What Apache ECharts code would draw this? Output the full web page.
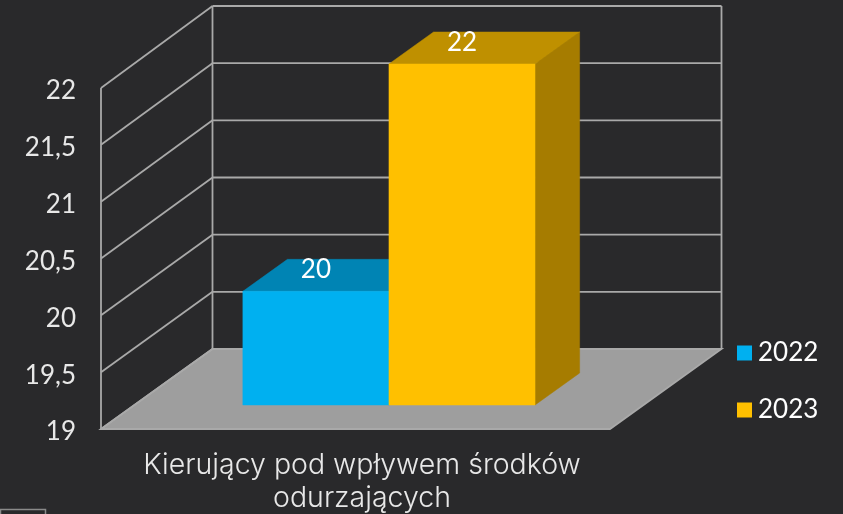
<!DOCTYPE html>
<html>
<head>
<meta charset="utf-8">
<style>html,body{margin:0;padding:0;background:#29292b}#c{width:843px;height:514px}</style>
<script src="https://cdn.jsdelivr.net/npm/echarts@6/dist/echarts.min.js"></script>
</head>
<body>
<div id="c"></div>
<script>
var categories = ['Kierujący pod wpływem środków\nodurzających'];
var seriesNames = ['2022', '2023'];
var values2022 = [20];
var values2023 = [22];
var yTicks = [19, 19.5, 20, 20.5, 21, 21.5, 22];

var FONT = 'Lato, "Open Sans", sans-serif';
var CAT_FONT = 'Inter, "Open Sans", sans-serif';
var LINE = '#a9a9a9';
// 3D projection, as fractions of the front plane
var DEPTH_X = 111.5 / 509, DEPTH_Y = 80 / 341, BACK_SCALE = 343 / 341;
var BAR_FRONT_GAP = 0.3, BAR_DEPTH = 0.4, BAR_WIDTH = 0.287;

function depthOf(cs) { return { x: cs.width * DEPTH_X, y: cs.height * DEPTH_Y }; }
function backY(cs, y) {
  var b = cs.y + cs.height;
  return b - cs.height * DEPTH_Y + (y - b) * BACK_SCALE;
}
function line(a, b, w) {
  return { type: 'line', shape: { x1: a[0], y1: a[1], x2: b[0], y2: b[1] },
    style: { stroke: LINE, lineWidth: w || 1.8, fill: null } };
}
function poly(pts, fill) {
  return { type: 'polygon', shape: { points: pts }, style: { fill: fill, stroke: fill, lineWidth: 0.5 } };
}
function renderFloor(params, api) {
  var cs = params.coordSys, d = depthOf(cs);
  var l = cs.x, r = cs.x + cs.width, b = cs.y + cs.height, t = cs.y;
  return { type: 'group', children: [
    { type: 'polygon', shape: { points: [[l, b], [r, b], [r + d.x, backY(cs, b)], [l + d.x, backY(cs, b)]] },
      style: { fill: '#9e9e9e', stroke: LINE, lineWidth: 1.8 } },
    line([l, t], [l, b]),
    line([l + d.x, backY(cs, t)], [l + d.x, backY(cs, b)]),
    line([r + d.x, backY(cs, t)], [r + d.x, backY(cs, b)])
  ] };
}
function renderGrid(params, api) {
  var cs = params.coordSys, d = depthOf(cs);
  var y = api.coord([0, api.value(1)])[1];
  var l = cs.x, r = cs.x + cs.width;
  return { type: 'group', children: [
    line([l, y], [l + d.x, backY(cs, y)]),
    line([l + d.x, backY(cs, y)], [r + d.x, backY(cs, y)])
  ] };
}
function makeBar(side, front, top, sideColor) {
  // side: -1 = left bar of the pair, 0 = right bar
  return function (params, api) {
    var cs = params.coordSys, d = depthOf(cs);
    var p = api.coord([api.value(0), api.value(1)]);
    var base = api.coord([api.value(0), yTicks[0]]);
    var w = cs.width * BAR_WIDTH;
    var ox = d.x * BAR_FRONT_GAP, oy = d.y * BAR_FRONT_GAP;
    var bx = d.x * BAR_DEPTH, by = d.y * BAR_DEPTH;
    var x0 = p[0] + ox + side * w, x1 = x0 + w;
    var yt = p[1] - oy, yb = base[1] - oy;
    return { type: 'group', children: [
      poly([[x1, yt], [x1 + bx, yt - by], [x1 + bx, yb - by], [x1, yb]], sideColor),
      poly([[x0, yt], [x0 + bx, yt - by], [x1 + bx, yt - by], [x1, yt]], top),
      poly([[x0, yt], [x1, yt], [x1, yb], [x0, yb]], front),
      { type: 'text', style: { text: String(api.value(1)), x: (x0 + x1) / 2, y: yt - 21.5,
        align: 'center', verticalAlign: 'middle', fill: '#fff', fontSize: 26, fontFamily: FONT } }
    ] };
  };
}

var chart = echarts.init(document.getElementById('c'), null, { renderer: 'canvas' });
chart.setOption({
  backgroundColor: '#29292b',
  animation: false,
  textStyle: { fontFamily: FONT },
  grid: { left: 101, right: 233, top: 88, bottom: 85, outerBoundsMode: 'none' },
  legend: {
    data: seriesNames, orient: 'vertical', left: 732, top: 335,
    itemWidth: 15, itemHeight: 15, itemGap: 31, icon: 'rect', selectedMode: false,
    textStyle: { color: '#fff', fontSize: 26, fontFamily: FONT, padding: [0, 0, 0, 1] }
  },
  xAxis: {
    type: 'category', data: categories,
    axisLine: { show: false }, axisTick: { show: false }, splitLine: { show: false },
    axisLabel: { color: '#e8e8e8', fontSize: 28.5, fontWeight: 300, lineHeight: 33, margin: 20, fontFamily: CAT_FONT, padding: [0, 0, 0, 13], interval: 0 }
  },
  yAxis: {
    type: 'value', min: 19, max: 22, interval: 0.5,
    axisLine: { show: false }, axisTick: { show: false }, splitLine: { show: false },
    axisLabel: { color: '#e8e8e8', fontSize: 26, margin: 25, fontFamily: FONT, verticalAlign: 'top', lineHeight: 6,
      formatter: function (v) { return String(v).replace('.', ','); } }
  },
  series: [
    { type: 'custom', name: 'floor', silent: true, clip: false, z: 1, renderItem: renderFloor, data: [[0, yTicks[0]]] },
    { type: 'custom', name: 'grid', silent: true, clip: false, z: 2, renderItem: renderGrid,
      data: yTicks.map(function (v) { return [0, v]; }) },
    { type: 'custom', name: seriesNames[0], clip: false, z: 3, itemStyle: { color: '#00B0F0' },
      renderItem: makeBar(-1, '#00B0F0', '#0084B4', '#0078A4'),
      data: values2022.map(function (v, i) { return [i, v]; }) },
    { type: 'custom', name: seriesNames[1], clip: false, z: 4, itemStyle: { color: '#FFC000' },
      renderItem: makeBar(0, '#FFC000', '#BF9000', '#A67C00'),
      data: values2023.map(function (v, i) { return [i, v]; }) }
  ],
  graphic: [{ type: 'rect', left: -2, top: 507, shape: { width: 45, height: 20 }, style: { fill: null, stroke: '#8a8a8a', lineWidth: 1.5 } }]
});
</script>
</body>
</html>
